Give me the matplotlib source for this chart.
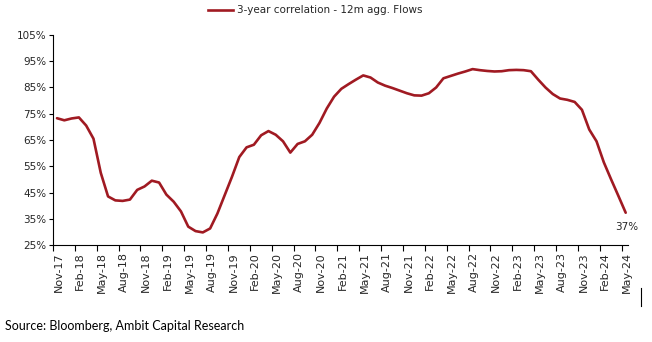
import matplotlib.pyplot as plt
from matplotlib.lines import Line2D
import numpy as np

# monthly, Nov-17 .. May-24 (3-year correlation, %)
corr = [73.3, 72.5, 73.2, 73.6, 70.5, 65.5, 52.5, 43.5, 42.0, 41.8,
        42.3, 46.0, 47.3, 49.5, 48.8, 44.2, 41.5, 37.8, 32.0, 30.3,
        29.8, 31.3, 37.0, 44.0, 51.0, 58.5, 62.2, 63.2, 66.8, 68.4,
        67.0, 64.5, 60.2, 63.5, 64.5, 67.0, 71.5, 77.0, 81.5, 84.5,
        86.3, 88.0, 89.6, 88.8, 86.9, 85.7, 84.8, 83.8, 82.8, 82.0,
        81.9, 82.8, 85.0, 88.5, 89.4, 90.3, 91.1, 92.0, 91.6, 91.3,
        91.1, 91.2, 91.6, 91.7, 91.6, 91.2, 88.0, 85.0, 82.5, 80.8,
        80.3, 79.5, 76.5, 69.0, 64.5, 56.5, 50.0, 43.7, 37.3]
tick_labels = ['Nov-17', 'Feb-18', 'May-18', 'Aug-18', 'Nov-18', 'Feb-19', 'May-19',
               'Aug-19', 'Nov-19', 'Feb-20', 'May-20', 'Aug-20', 'Nov-20', 'Feb-21',
               'May-21', 'Aug-21', 'Nov-21', 'Feb-22', 'May-22', 'Aug-22', 'Nov-22',
               'Feb-23', 'May-23', 'Aug-23', 'Nov-23', 'Feb-24', 'May-24']

red = '#A01A22'
txt = '#262626'

fig = plt.figure(figsize=(6.52, 3.42), dpi=100)
ax = fig.add_axes([0.0813, 0.2836, 0.8817, 0.6141])

x = np.arange(len(corr))
ax.plot(x, corr, color=red, lw=1.9, solid_capstyle='round', solid_joinstyle='round')
ax.annotate('37%', (x[-1], corr[-1]), xytext=(1, -10), textcoords='offset points',
            ha='center', va='center', fontsize=7.5, color=txt)

ax.set_ylim(25, 105)
ax.set_yticks(np.arange(25, 106, 10))
ax.set_yticklabels([f'{v}%' for v in range(25, 106, 10)], fontsize=7.5, color=txt)
ax.set_xlim(-0.55, 78.3)

lab_pos = np.arange(len(tick_labels)) * 3 + 0.2
ax.set_xticks(lab_pos)
ax.set_xticklabels(tick_labels, rotation=90, fontsize=8, color=txt)
ax.set_xticks(np.arange(len(tick_labels)) * 3 - 0.55, minor=True)
ax.tick_params(axis='x', which='major', length=0, pad=5)
ax.tick_params(axis='x', which='minor', length=4, width=0.8, direction='out', color='black')
ax.tick_params(axis='y', length=3, width=0.8, direction='out', pad=2)

for s in ['top', 'right']:
    ax.spines[s].set_visible(False)
for s in ['left', 'bottom']:
    ax.spines[s].set_linewidth(0.8)
    ax.spines[s].set_color('black')

fig.add_artist(Line2D([208 / 652, 233 / 652], [1 - 10 / 342, 1 - 10 / 342], color=red, lw=1.9))
fig.text(237 / 652, 1 - 10 / 342, '3-year correlation - 12m agg. Flows', fontsize=7.5,
         color=txt, va='center', ha='left')

fig.text(5 / 652, 1 - 326 / 342, 'Source: Bloomberg, Ambit Capital Research', fontsize=9,
         family='Lato', color='black', va='center', ha='left')
fig.add_artist(Line2D([641 / 652, 641 / 652], [1 - 288 / 342, 1 - 306 / 342], color='black', lw=0.8))

fig.savefig('out.png', dpi=100)
